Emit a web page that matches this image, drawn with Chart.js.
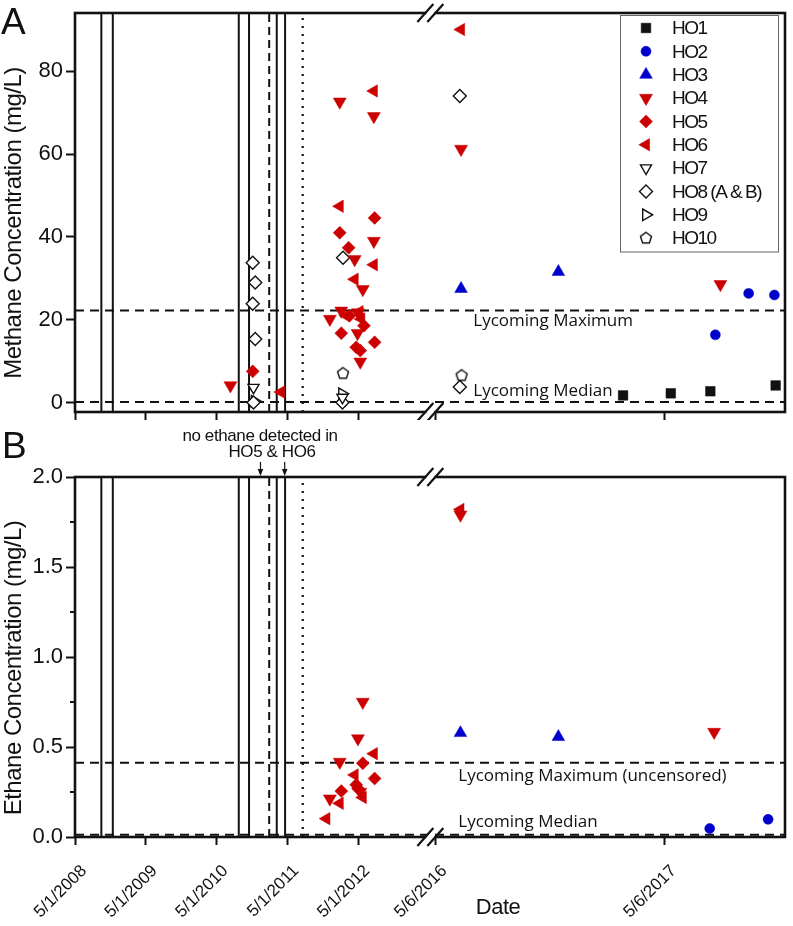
<!DOCTYPE html>
<html>
<head>
<meta charset="utf-8">
<title>Methane and ethane in homeowner wells</title>
<script src="https://cdn.jsdelivr.net/npm/chart.js@4.4.1/dist/chart.umd.min.js"></script>
<style>
  html, body { margin: 0; padding: 0; background: #fff; }
  canvas { display: block; }
</style>
</head>
<body>
<canvas id="methaneChart" width="793" height="420"></canvas>
<canvas id="ethaneChart" width="793" height="506"></canvas>
<script>
// --- DATA ---

// wells, in legend order
const wellLabels = ["HO1", "HO2", "HO3", "HO4", "HO5", "HO6", "HO7", "HO8 (A & B)", "HO9", "HO10"];

// panel A: methane (mg/L) as [sample date, value]
const ch4HO1 = [["2017-03-01", 1.8], ["2017-05-16", 2.3], ["2017-07-18", 2.8], ["2017-10-30", 4.2]];
const ch4HO2 = [["2017-07-26", 16.4], ["2017-09-17", 26.4], ["2017-10-28", 26.0]];
const ch4HO3 = [["2016-06-16", 27.5], ["2016-11-18", 31.6]];
const ch4HO4 = [["2010-07-12", 4.2], ["2011-12-07", 20.2], ["2012-01-27", 72.6], ["2012-02-04", 22.2],
  ["2012-04-13", 34.6], ["2012-04-30", 21.8], ["2012-04-28", 16.8], ["2012-05-12", 9.9],
  ["2012-05-25", 27.4], ["2012-07-21", 69.1], ["2012-07-21", 39.0], ["2016-06-16", 61.2], ["2017-08-03", 28.6]];
const ch4HO5 = [["2010-11-04", 7.6], ["2012-01-27", 41.0], ["2012-03-13", 37.4], ["2012-07-25", 44.6],
  ["2012-02-04", 16.8], ["2012-04-21", 13.4], ["2012-05-12", 12.6], ["2012-07-25", 14.6],
  ["2012-05-31", 18.6], ["2012-03-17", 21.0]];
const ch4HO6 = [["2011-03-30", 2.6], ["2012-01-27", 47.4], ["2012-07-21", 75.2], ["2012-07-21", 33.3],
  ["2012-04-13", 29.8], ["2012-03-01", 21.0], ["2012-05-17", 20.2], ["2012-05-08", 22.0], ["2016-06-16", 90.0]];
const ch4HO7 = [["2010-11-08", 3.7], ["2012-02-10", 1.3]];
const ch4HO8 = [["2010-11-04", 33.8], ["2010-11-17", 29.0], ["2010-11-04", 23.9], ["2010-11-17", 15.4],
  ["2010-11-08", 0.1], ["2012-02-13", 35.0], ["2012-02-10", 0.1], ["2016-06-14", 74.0], ["2016-06-14", 3.8]];
const ch4HO9 = [["2010-11-14", 0.4], ["2012-02-08", 2.2]];
const ch4HO10 = [["2012-02-13", 7.1], ["2016-06-17", 6.6]];

// panel B: ethane (mg/L)
const c2h6HO1 = [];
const c2h6HO2 = [["2017-07-17", 0.047], ["2017-10-18", 0.098]];
const c2h6HO3 = [["2016-06-15", 0.578], ["2016-11-18", 0.556]];
const c2h6HO4 = [["2012-05-25", 0.75], ["2012-04-30", 0.547], ["2012-01-27", 0.417], ["2011-12-07", 0.213],
  ["2012-05-12", 0.25], ["2016-06-15", 1.79], ["2017-07-24", 0.583]];
const c2h6HO5 = [["2012-05-25", 0.41], ["2012-07-25", 0.325], ["2012-04-21", 0.29], ["2012-04-30", 0.27],
  ["2012-02-04", 0.255]];
const c2h6HO6 = [["2012-07-21", 0.463], ["2012-04-13", 0.345], ["2012-05-25", 0.22], ["2012-01-27", 0.187],
  ["2011-11-19", 0.102], ["2016-06-15", 1.82]];
const c2h6HO7 = [];
const c2h6HO8 = [];
const c2h6HO9 = [];
const c2h6HO10 = [];

// Lycoming reference levels: [maximum, median]
const ch4Lycoming = [22.3, 0.2];
const c2h6Lycoming = [0.413, 0.012];

// event dates drawn as vertical lines in both panels
const eventSolid = ["2008-09-14", "2008-11-12", "2010-08-24", "2010-10-16", "2011-03-08", "2011-04-20"];
const eventDashed = ["2011-01-28"];
const eventDotted = ["2011-07-20"];
const noEthaneDates = ["2010-12-14", "2011-04-18"];

// axis ticks
const xTickDates = ["2008-05-01", "2009-05-01", "2010-05-01", "2011-05-01", "2012-05-01", "2016-05-06", "2017-05-06"];
const xTickLabels = ["5/1/2008", "5/1/2009", "5/1/2010", "5/1/2011", "5/1/2012", "5/6/2016", "5/6/2017"];
const ch4Ticks = [0, 20, 40, 60, 80];
const c2h6Ticks = [0, 0.5, 1.0, 1.5, 2.0];
const c2h6MinorTicks = [0.25, 0.75, 1.25, 1.75];

// --- BROKEN DATE AXIS ---
// left part runs in years from 5/1/2008, right part (after the break) is stretched

const YEAR = 365.25 * 86400000;
const AXIS_START = Date.parse("2008-05-01");
const RIGHT_START = Date.parse("2016-05-06");
const BREAK_AT = 5.02;
const RIGHT_AT = 5.09;
const RIGHT_STRETCH = 3.24;
const X_MAX = 10.03;

function toAxis(s) {
  const t = Date.parse(s);
  if (t < RIGHT_START - YEAR) return (t - AXIS_START) / YEAR;
  return RIGHT_AT + (t - RIGHT_START) / YEAR * RIGHT_STRETCH;
}

// --- STYLES ---

const SANS = '"Liberation Sans", Arial, sans-serif';
const RED = "#cc0000";
const BLUE = "#0000cc";
const INK = "#111";

function pentagon(r) {
  const c = document.createElement("canvas");
  const size = Math.ceil(r * 2 + 4);
  c.width = size; c.height = size;
  const g = c.getContext("2d");
  g.beginPath();
  for (let k = 0; k < 5; k++) {
    const a = -Math.PI / 2 + k * 2 * Math.PI / 5;
    g.lineTo(size / 2 + r * Math.cos(a), size / 2 + r * Math.sin(a));
  }
  g.closePath();
  g.fillStyle = "#fff"; g.fill();
  g.lineWidth = 1.4; g.strokeStyle = INK; g.stroke();
  return c;
}

const wellStyles = [
  { style: "rect", rot: 0, r: 6.8, fill: INK, stroke: INK, bw: 0.5 },
  { style: "circle", rot: 0, r: 5, fill: BLUE, stroke: BLUE, bw: 0.5 },
  { style: "triangle", rot: 0, r: 7.3, fill: BLUE, stroke: BLUE, bw: 0.5 },
  { style: "triangle", rot: 180, r: 7.5, fill: RED, stroke: RED, bw: 0.5 },
  { style: "rectRot", rot: 0, r: 6.5, fill: RED, stroke: RED, bw: 0.5 },
  { style: "triangle", rot: 270, r: 7.2, fill: RED, stroke: RED, bw: 0.5 },
  { style: "triangle", rot: 180, r: 6.4, fill: "#fff", stroke: INK, bw: 1.4 },
  { style: "rectRot", rot: 0, r: 6.5, fill: "#fff", stroke: INK, bw: 1.4 },
  { style: "triangle", rot: 90, r: 6.6, fill: "#fff", stroke: INK, bw: 1.4 },
  { style: pentagon(5.8), rot: 0, r: 6, fill: "#fff", stroke: INK, bw: 1.4 }
];

// --- DATASETS ---

function wellDatasets(seriesList) {
  return seriesList.map((pairs, i) => {
    const st = wellStyles[i];
    return {
      label: wellLabels[i],
      data: pairs.map(([d, v]) => ({ x: toAxis(d), y: v })),
      pointStyle: st.style,
      pointRotation: st.rot,
      pointRadius: st.r,
      pointHoverRadius: st.r,
      pointBackgroundColor: st.fill,
      pointBorderColor: st.stroke,
      pointBorderWidth: st.bw,
      order: 1
    };
  });
}

function refLine(points, dash, width) {
  return {
    isRef: true,
    data: points,
    showLine: true,
    pointRadius: 0,
    pointHitRadius: 0,
    borderColor: INK,
    borderWidth: width,
    borderDash: dash,
    fill: false,
    order: 5
  };
}

function refDatasets(levels, yMin, yMax) {
  const out = [];
  levels.forEach(v => out.push(refLine([{ x: 0, y: v }, { x: X_MAX, y: v }], [9, 6], 2)));
  eventSolid.forEach(d => out.push(refLine([{ x: toAxis(d), y: yMin }, { x: toAxis(d), y: yMax }], [], 2)));
  eventDashed.forEach(d => out.push(refLine([{ x: toAxis(d), y: yMin }, { x: toAxis(d), y: yMax }], [8, 5], 2)));
  eventDotted.forEach(d => out.push(refLine([{ x: toAxis(d), y: yMin }, { x: toAxis(d), y: yMax }], [2, 6], 2.2)));
  return out;
}

// --- DRAW HELPERS ---

function text(ctx, str, x, y, size, opts = {}) {
  ctx.save();
  ctx.font = (opts.family ? size + "px " + opts.family : size + "px " + SANS);
  ctx.fillStyle = INK;
  ctx.textAlign = opts.align || "left";
  ctx.textBaseline = "middle";
  if ("letterSpacing" in ctx) ctx.letterSpacing = (opts.spacing || 0) + "px";
  ctx.translate(x, y);
  if (opts.rotate) ctx.rotate(opts.rotate);
  ctx.fillText(str, 0, 0);
  ctx.restore();
}

function drawFrame(ctx, a) {
  ctx.save();
  ctx.strokeStyle = INK;
  ctx.lineWidth = 2.6;
  ctx.strokeRect(a.left, a.top, a.right - a.left, a.bottom - a.top);
  ctx.restore();
}

function drawBreak(ctx, xb, y) {
  ctx.save();
  ctx.fillStyle = "#fff";
  ctx.fillRect(xb - 4, y - 2.5, 8, 5);
  ctx.strokeStyle = INK;
  ctx.lineWidth = 2.2;
  [-5, 5].forEach(dx => {
    ctx.beginPath();
    ctx.moveTo(xb + dx - 8, y + 9);
    ctx.lineTo(xb + dx + 8, y - 9);
    ctx.stroke();
  });
  ctx.restore();
}

function drawLegend(chart) {
  const ctx = chart.ctx;
  const wells = chart.data.datasets.filter(ds => !ds.isRef);
  ctx.save();
  ctx.strokeStyle = "#666";
  ctx.lineWidth = 1;
  ctx.strokeRect(620.5, 15.5, 158, 236.5);
  wells.forEach((ds, i) => {
    const cy = 28 + i * 23.35;
    ctx.fillStyle = ds.pointBackgroundColor;
    ctx.strokeStyle = ds.pointBorderColor;
    ctx.lineWidth = ds.pointBorderWidth;
    Chart.helpers.drawPoint(ctx, {
      pointStyle: ds.pointStyle, rotation: ds.pointRotation,
      radius: ds.pointRadius, borderWidth: ds.pointBorderWidth
    }, 646, cy);
    text(ctx, ds.label, 672, cy + 1, 19, { spacing: -1.5 });
  });
  ctx.restore();
}

function drawArrow(ctx, x, y0, y1) {
  ctx.save();
  ctx.strokeStyle = INK; ctx.fillStyle = INK; ctx.lineWidth = 1.2;
  ctx.beginPath(); ctx.moveTo(x, y0); ctx.lineTo(x, y1 - 5); ctx.stroke();
  ctx.beginPath(); ctx.moveTo(x - 2.8, y1 - 7); ctx.lineTo(x + 2.8, y1 - 7); ctx.lineTo(x, y1); ctx.closePath(); ctx.fill();
  ctx.restore();
}

// --- CHARTS ---

function makePanel(canvasId, cfg) {
  const ctx = document.getElementById(canvasId).getContext("2d");
  return new Chart(ctx, {
    type: "scatter",
    data: { datasets: wellDatasets(cfg.series).concat(refDatasets(cfg.levels, cfg.yMin, cfg.yMax)) },
    options: {
      responsive: false,
      animation: false,
      events: [],
      layout: { padding: { top: cfg.padTop, right: 3, left: 0, bottom: 0 } },
      plugins: { legend: { display: false }, tooltip: { enabled: false } },
      scales: {
        x: {
          type: "linear",
          min: 0,
          max: X_MAX,
          afterBuildTicks: s => { s.ticks = xTickDates.map(d => ({ value: toAxis(d) })); },
          afterFit: s => {
            s.height = cfg.xHeight;
            s.paddingLeft = 0; s.paddingRight = 0;
          },
          ticks: {
            display: cfg.xLabels,
            autoSkip: false,
            minRotation: 45,
            maxRotation: 45,
            padding: 16,
            labelOffset: 9,
            color: INK,
            font: { family: SANS, size: 17 },
            callback: (v, i) => xTickLabels[i]
          },
          grid: { drawOnChartArea: false, drawTicks: true, tickLength: 8, tickWidth: 2, tickColor: INK },
          border: { display: false }
        },
        y: {
          min: cfg.yMin,
          max: cfg.yMax,
          afterBuildTicks: s => { s.ticks = cfg.yTicks.map(v => ({ value: v })); },
          afterFit: s => {
            s.width = 75;
            s.paddingTop = 0; s.paddingBottom = 0;
          },
          ticks: {
            padding: 3,
            color: INK,
            font: { family: SANS, size: 22 },
            callback: cfg.yFormat
          },
          grid: { drawOnChartArea: false, drawTicks: true, tickLength: 9, tickWidth: 2, tickColor: INK },
          border: { display: false }
        }
      }
    },
    plugins: [{
      id: "decor-" + canvasId,
      afterDraw(chart) {
        const c = chart.ctx;
        const a = chart.chartArea;
        const xs = chart.scales.x;
        const ys = chart.scales.y;
        drawFrame(c, a);
        const xb = xs.getPixelForValue(BREAK_AT);
        drawBreak(c, xb, a.top);
        drawBreak(c, xb, a.bottom);
        cfg.decorate(chart, c, a, xs, ys);
      }
    }]
  });
}

makePanel("methaneChart", {
  series: [ch4HO1, ch4HO2, ch4HO3, ch4HO4, ch4HO5, ch4HO6, ch4HO7, ch4HO8, ch4HO9, ch4HO10],
  levels: ch4Lycoming,
  yMin: -2.2,
  yMax: 94,
  yTicks: ch4Ticks,
  yFormat: v => String(v),
  padTop: 13,
  xHeight: 7,
  xLabels: false,
  decorate(chart, c, a, xs, ys) {
    text(c, "A", 1, 24, 37);
    text(c, "Methane Concentration (mg/L)", 14, 223, 24, { align: "center", rotate: -Math.PI / 2, spacing: -0.5 });
    const lx = xs.getPixelForValue(RIGHT_AT) + 38;
    text(c, "Lycoming Maximum", lx, ys.getPixelForValue(ch4Lycoming[0]) + 11, 17, { family: '"Open Sans", sans-serif' });
    text(c, "Lycoming Median", lx, ys.getPixelForValue(ch4Lycoming[1]) - 11, 17, { family: '"Open Sans", sans-serif' });
    drawLegend(chart);
  }
});

makePanel("ethaneChart", {
  series: [c2h6HO1, c2h6HO2, c2h6HO3, c2h6HO4, c2h6HO5, c2h6HO6, c2h6HO7, c2h6HO8, c2h6HO9, c2h6HO10],
  levels: c2h6Lycoming,
  yMin: 0,
  yMax: 2.0,
  yTicks: c2h6Ticks,
  yFormat: v => v.toFixed(1),
  padTop: 57,
  xHeight: 89,
  xLabels: true,
  decorate(chart, c, a, xs, ys) {
    text(c, "B", 2, 28, 37);
    text(c, "Ethane Concentration (mg/L)", 14, 248, 24, { align: "center", rotate: -Math.PI / 2, spacing: -0.5 });
    // minor ticks
    c.save();
    c.strokeStyle = INK; c.lineWidth = 2;
    c2h6MinorTicks.forEach(v => {
      const py = ys.getPixelForValue(v);
      c.beginPath(); c.moveTo(a.left - 5, py); c.lineTo(a.left, py); c.stroke();
    });
    c.restore();
    const lx = xs.getPixelForValue(RIGHT_AT) + 23;
    text(c, "Lycoming Maximum (uncensored)", lx, ys.getPixelForValue(c2h6Lycoming[0]) + 13, 17, { family: '"Open Sans", sans-serif' });
    text(c, "Lycoming Median", lx, ys.getPixelForValue(c2h6Lycoming[1]) - 13, 17, { family: '"Open Sans", sans-serif' });
    text(c, "no ethane detected in", 260, 16, 17, { align: "center", spacing: -0.4 });
    text(c, "HO5 & HO6", 272, 32, 17, { align: "center", spacing: -0.4 });
    noEthaneDates.forEach(d => drawArrow(c, xs.getPixelForValue(toAxis(d)), 42, a.top - 1));
    text(c, "Date", 498, 488, 22, { align: "center", spacing: -0.5 });
  }
});
</script>
</body>
</html>
